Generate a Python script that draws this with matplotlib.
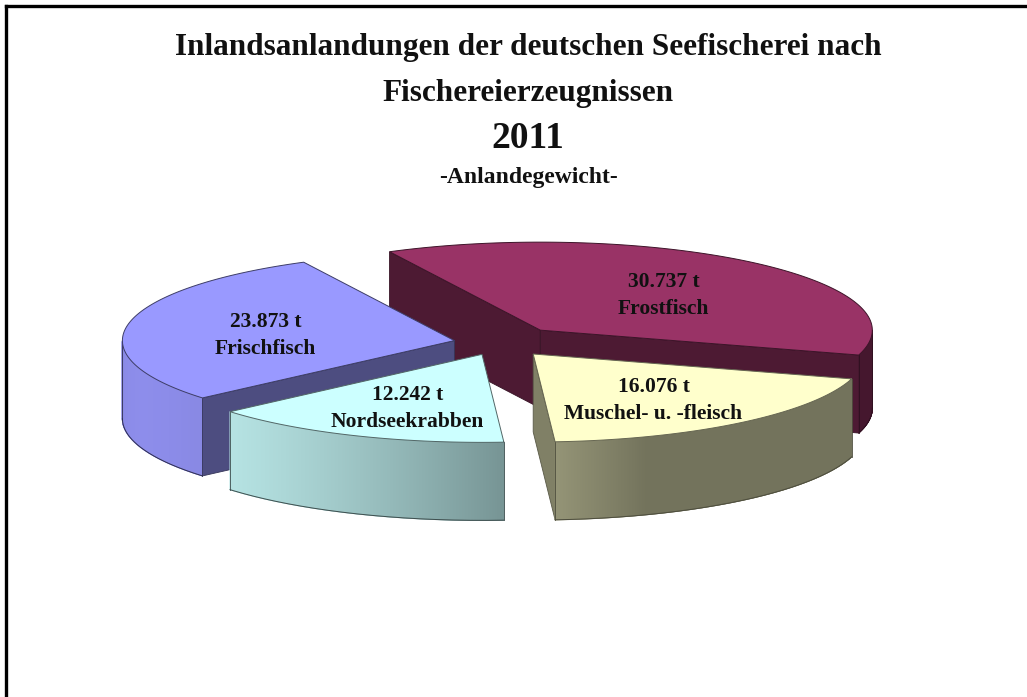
import numpy as np
import matplotlib
matplotlib.use("Agg")
import matplotlib.pyplot as plt
from matplotlib.patches import Polygon
from matplotlib.collections import PolyCollection
from matplotlib.colors import to_rgb

# ---- data (pie order, clockwise from the start angle) ----
categories = ["Frostfisch", "Muschel- u. -fleisch", "Nordseekrabben", "Frischfisch"]
values = [30.737, 16.076, 12.242, 23.873]
value_labels = ["30.737 t", "16.076 t", "12.242 t", "23.873 t"]
colors = ["#993366", "#FFFFCC", "#CCFFFF", "#9999FF"]
explode = [0.19, 0.16, 0.14, 0.14]
title_lines = ["Inlandsanlandungen der deutschen Seefischerei nach",
               "Fischereierzeugnissen", "2011", "-Anlandegewicht-"]

W, H = 1027, 697
fig = plt.figure(figsize=(W / 100, H / 100), dpi=100)
ax = fig.add_axes([0, 0, 1, 1])
ax.set_xlim(0, W)
ax.set_ylim(H, 0)
ax.axis("off")

# frame (top and left only)
ax.plot([6, 6], [H, 6], color="black", lw=2.4, solid_capstyle="projecting")
ax.plot([6, W], [6, 6], color="black", lw=2.4, solid_capstyle="projecting")

serif = ["Liberation Serif", "DejaVu Serif"]
title_y = [47, 93, 139, 177]
title_fs = [22.5, 22.5, 27, 17]
for t, y, fs in zip(title_lines, title_y, title_fs):
    ax.text(528, y, t, ha="center", va="center", fontsize=fs,
            fontweight="bold", family=serif, color="#111111")

# ---- 3D pie geometry ----
cx, cy = 500, 343
rx, ry, depth = 332, 88, 78
start = 117.0
total = float(sum(values))


def shade(c, f):
    r, g, b = to_rgb(c)
    return (r * f, g * f, b * f)


def light(a_deg):
    return 0.45 + 0.47 * max(0.0, np.cos(np.radians(a_deg - 200.0)))


slices = []
cum = 0.0
for i, v in enumerate(values):
    a1 = start - cum / total * 360.0
    a2 = a1 - v / total * 360.0
    cum += v
    mid = np.radians((a1 + a2) / 2)
    ox = explode[i] * rx * np.cos(mid)
    oy = -explode[i] * ry * np.sin(mid)
    slices.append((i, a1, a2, mid, ox, oy))

order = sorted(slices, key=lambda s: -np.sin(s[3]))

for i, a1, a2, mid, ox, oy in order:
    col = colors[i]
    tx, ty = cx + ox, cy + oy

    def edge(a):
        ar = np.radians(a)
        return (tx + rx * np.cos(ar), ty - ry * np.sin(ar))

    # radial faces
    for a, vis in ((a1, np.cos(np.radians(a1)) < 0), (a2, np.cos(np.radians(a2)) > 0)):
        if vis:
            ex, ey = edge(a)
            quad = [(tx, ty), (ex, ey), (ex, ey + depth), (tx, ty + depth)]
            ax.add_patch(Polygon(quad, closed=True, facecolor=shade(col, 0.5),
                                 edgecolor=shade(col, 0.35), lw=0.6, zorder=2))

    # curved outer side (front half only)
    angs = np.linspace(a1, a2, 400)
    front = angs[np.sin(np.radians(angs)) < 0]
    if len(front) > 1:
        polys, fcs = [], []
        for k in range(len(front) - 1):
            p0, p1 = edge(front[k]), edge(front[k + 1])
            polys.append([p0, p1, (p1[0], p1[1] + depth), (p0[0], p0[1] + depth)])
            fcs.append(shade(col, light((front[k] + front[k + 1]) / 2 % 360)))
        ax.add_collection(PolyCollection(polys, facecolors=fcs, edgecolors=fcs,
                                         lw=0.8, zorder=2))
        bx = [edge(a)[0] for a in front]
        by = [edge(a)[1] + depth for a in front]
        ax.plot(bx, by, color=shade(col, 0.3), lw=0.7, zorder=2)
        ax.plot([bx[0], bx[0]], [by[0] - depth, by[0]], color=shade(col, 0.3), lw=0.6, zorder=2)
        ax.plot([bx[-1], bx[-1]], [by[-1] - depth, by[-1]], color=shade(col, 0.3), lw=0.6, zorder=2)

    # top face
    top = [(tx, ty)] + [edge(a) for a in angs]
    ax.add_patch(Polygon(top, closed=True, facecolor=col,
                         edgecolor=shade(col, 0.4), lw=0.7, zorder=2))

    # label
    lx = tx + 0.58 * rx * np.cos(mid)
    ly = ty - 0.6 * ry * np.sin(mid) + 5
    ax.text(lx, ly - 13, value_labels[i], ha="center", va="center", fontsize=15.5,
            fontweight="bold", family=serif, color="#111111", zorder=3)
    ax.text(lx, ly + 14, categories[i], ha="center", va="center", fontsize=15.5,
            fontweight="bold", family=serif, color="#111111", zorder=3)

fig.savefig("out.png", dpi=100, facecolor="white")
